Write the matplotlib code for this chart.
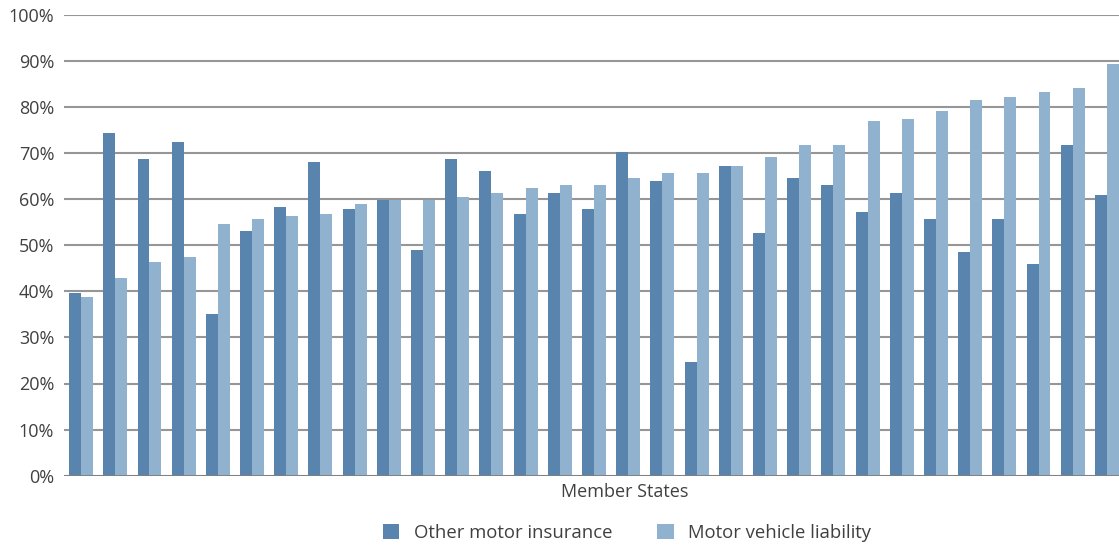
import numpy as np
import matplotlib.pyplot as plt

# share per member state (%), sorted by motor vehicle liability
other_motor = [39.6, 74.3, 68.7, 72.4, 35.0, 53.1, 58.3, 68.0, 57.8, 59.8,
               49.0, 68.7, 66.1, 56.8, 61.3, 57.8, 70.2, 63.9, 24.7, 67.2,
               52.6, 64.6, 63.1, 57.2, 61.3, 55.7, 48.5, 55.7, 45.9, 71.7, 60.9]
motor_liability = [38.8, 42.9, 46.3, 47.4, 54.6, 55.7, 56.3, 56.8, 58.9, 59.8,
                   59.8, 60.4, 61.3, 62.4, 63.1, 63.1, 64.6, 65.7, 65.7, 67.2,
                   69.1, 71.7, 71.7, 76.9, 77.4, 79.1, 81.5, 82.1, 83.2, 84.1, 89.3]
series_names = ["Other motor insurance", "Motor vehicle liability"]

dark = "#5884ad"
light = "#91b2cf"
text_col = "#404040"

plt.rcParams['font.family'] = ['Open Sans', 'DejaVu Sans']

fig = plt.figure(figsize=(11.19, 5.47), dpi=100)
ax = fig.add_axes([64 / 1119, 1 - 475.7 / 547, 1060 / 1119, 461 / 547])

x = np.arange(len(other_motor))
w = 0.35
ax.bar(x - w, other_motor, width=w, align='edge', color=dark, label=series_names[0], zorder=3)
ax.bar(x, motor_liability, width=w, align='edge', color=light, label=series_names[1], zorder=3)

ax.set_xlim(-0.5, len(x) - 0.5)
ax.set_ylim(0, 100)
ax.set_yticks(np.arange(0, 101, 10))
ax.set_yticklabels([f"{v}%" for v in range(0, 101, 10)], fontsize=13, color=text_col)
ax.set_xticks([])
ax.tick_params(axis='y', length=0, pad=7)
ax.yaxis.grid(True, color="#969696", linewidth=1.5, zorder=0)
ax.set_axisbelow(True)
for s in ax.spines.values():
    s.set_visible(False)
ax.axhline(0, color="#7f7f7f", linewidth=2, zorder=4)

fig.text(625 / 1119, 1 - 492 / 547, "Member States", ha='center', va='center',
         fontsize=13, color=text_col)

fig.legend(loc='center', bbox_to_anchor=(627 / 1119, 1 - 533 / 547), ncol=2,
           frameon=False, fontsize=13.3, labelcolor=text_col,
           handlelength=0.9, handleheight=0.9, handletextpad=0.8, columnspacing=2.4)

fig.savefig("out.png", dpi=100)
